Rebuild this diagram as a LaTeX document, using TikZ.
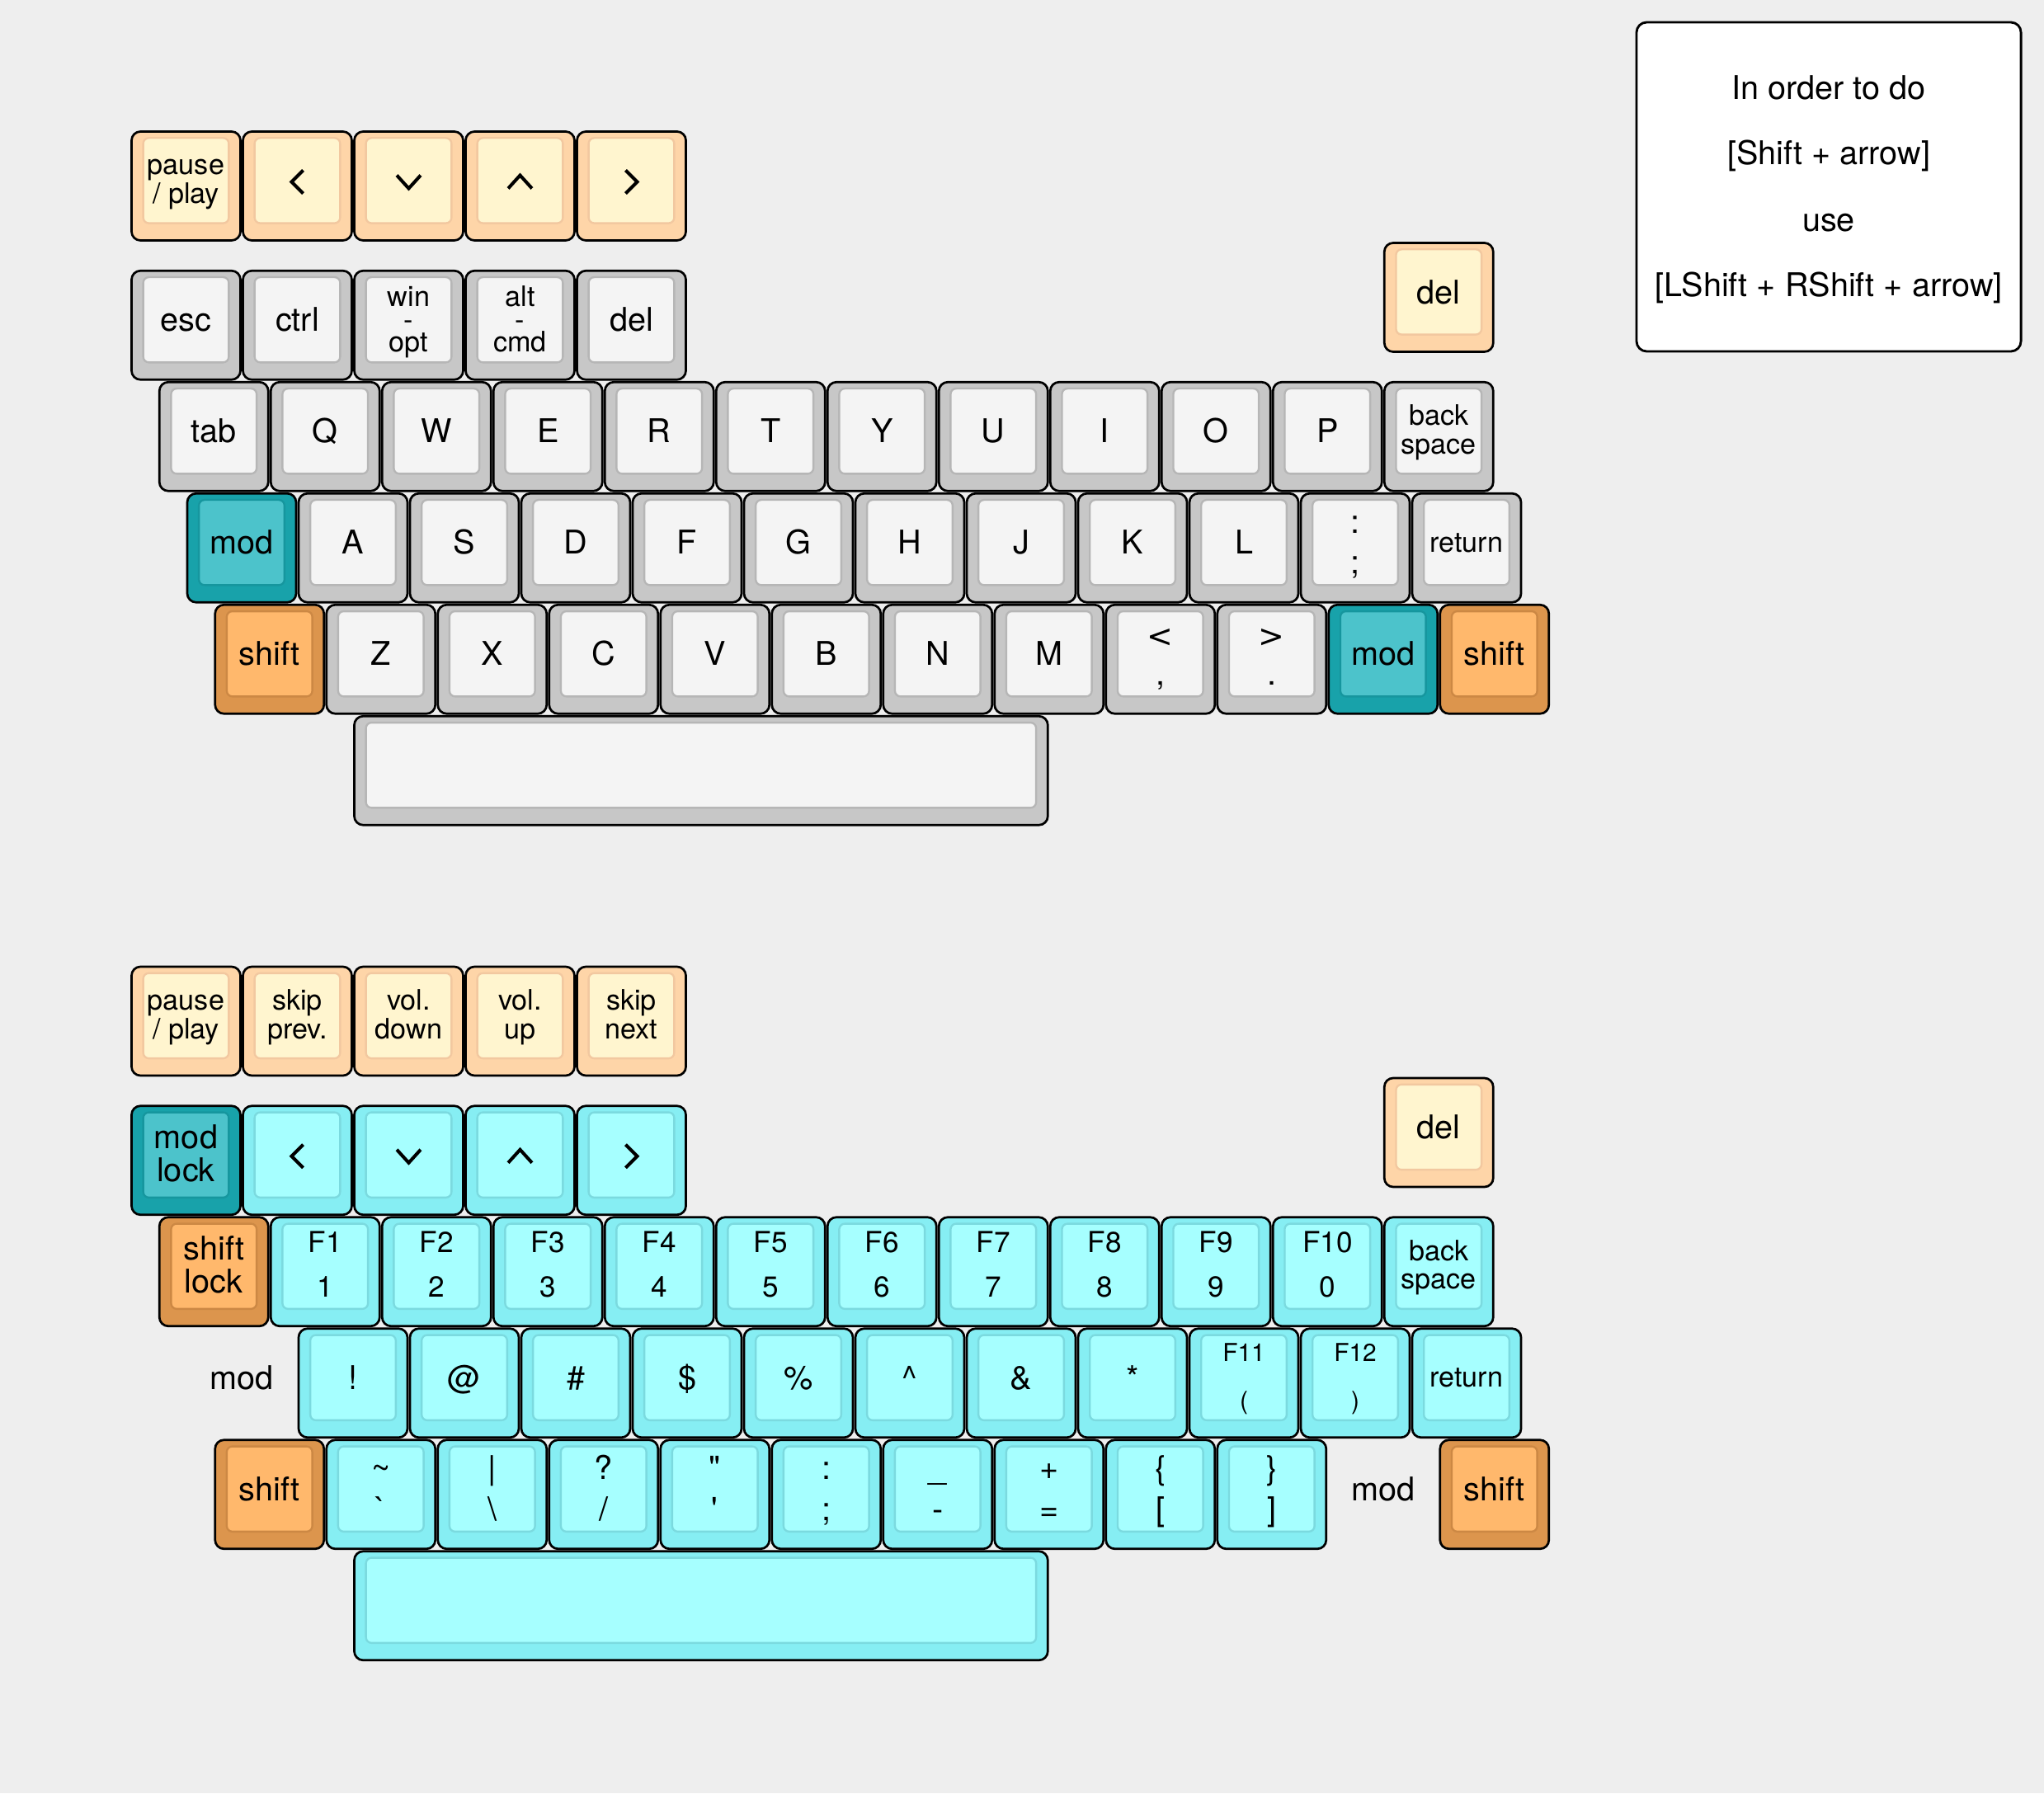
\documentclass[tikz,border=0pt]{standalone}
\usepackage{fontspec}
\newfontfamily\kf{TeX Gyre Heros}
\newfontfamily\dv{DejaVu Sans}
\usetikzlibrary{calc}
\definecolor{bgc}{HTML}{EEEEEE}
\definecolor{gyO}{HTML}{C7C7C7}\definecolor{gyI}{HTML}{F4F4F4}\definecolor{gyB}{HTML}{B6B6B6}
\definecolor{pcO}{HTML}{FED5A8}\definecolor{pcI}{HTML}{FFF5CF}\definecolor{pcB}{HTML}{F2C8A0}
\definecolor{tlO}{HTML}{18A2AA}\definecolor{tlI}{HTML}{4CC3CB}\definecolor{tlB}{HTML}{16969E}
\definecolor{orO}{HTML}{DC954D}\definecolor{orI}{HTML}{FFB86C}\definecolor{orB}{HTML}{CC8844}
\definecolor{cyO}{HTML}{86EEF3}\definecolor{cyI}{HTML}{A6FFFF}\definecolor{cyB}{HTML}{7BDADF}
\tikzset{
  kout/.style={rectangle, draw=black, line width=0.57pt, rounded corners=0.08cm, inner sep=0pt, outer sep=0pt},
  kin/.style={rectangle, line width=0.5pt, rounded corners=0.05cm, inner sep=0pt, outer sep=0pt},
  gy out/.style={fill=gyO}, gy in/.style={fill=gyI, draw=gyB},
  pc out/.style={fill=pcO}, pc in/.style={fill=pcI, draw=pcB},
  tl out/.style={fill=tlO}, tl in/.style={fill=tlI, draw=tlB},
  or out/.style={fill=orO}, or in/.style={fill=orI, draw=orB},
  cy out/.style={fill=cyO}, cy in/.style={fill=cyI, draw=cyB},
  lm/.style={font=\kf\fontsize{8.35}{10}\selectfont, inner sep=0pt, outer sep=0pt, anchor=base, text=black},
  ls/.style={font=\kf\fontsize{7.2}{9}\selectfont, inner sep=0pt, outer sep=0pt, anchor=base, text=black},
  lf/.style={font=\kf\fontsize{7.4}{9}\selectfont, inner sep=0pt, outer sep=0pt, anchor=base, text=black},
  lt/.style={font=\kf\fontsize{6.3}{8}\selectfont, inner sep=0pt, outer sep=0pt, anchor=base, text=black},
  chev/.style={draw=black, line width=0.85pt},
  notebox/.style={rectangle, draw=black, fill=white, line width=0.6pt, rounded corners=0.09cm, inner sep=0pt, outer sep=0pt},
}
% key body: name, x, y, width, palette
\newcommand\keycap[5]{%
  \node[kout, #5 out, anchor=north west, minimum width={(#4-0.022)*1cm}, minimum height=0.978cm] (#1) at ({#2+0.011},{#3+0.011}) {};
  \node[kin, #5 in, anchor=north west, minimum width={(#4-0.232)*1cm}, minimum height=0.765cm] (#1-top) at ({#2+0.116},{#3+0.069}) {};
}
% label: key, suffix, style, offset, text
\newcommand\klab[5]{\node[#3] (#1-#2) at ([yshift={-#4cm}]#1.north) {#5};}
\newcommand\kOne[2]{\klab{#1}{l}{lm}{0.546}{#2}}
\newcommand\kOneS[2]{\klab{#1}{l}{ls}{0.525}{#2}}
\newcommand\kTwoS[3]{\klab{#1}{a}{ls}{0.389}{#2}\klab{#1}{b}{ls}{0.646}{#3}}
\newcommand\kTwoM[3]{\klab{#1}{a}{lm}{0.381}{#2}\klab{#1}{b}{lm}{0.678}{#3}}
\newcommand\kTwoF[3]{\klab{#1}{a}{lf}{0.313}{#2}\klab{#1}{b}{lf}{0.720}{#3}}
\newcommand\kTwoT[3]{\klab{#1}{a}{lt}{0.291}{#2}\klab{#1}{b}{lt}{0.722}{#3}}
\newcommand\kTwoP[3]{\klab{#1}{a}{lm}{0.356}{#2}\klab{#1}{b}{lm}{0.722}{#3}}
\newcommand\kThree[4]{\klab{#1}{a}{ls}{0.322}{#2}\klab{#1}{b}{ls}{0.525}{#3}\klab{#1}{c}{ls}{0.730}{#4}}
% chevrons
\newcommand\chevL[1]{\coordinate (#1-c) at ([yshift=-0.452cm]#1.north);
  \draw[chev] ($(#1-c)+(0.052,-0.104)$) -- ($(#1-c)+(-0.052,0)$) -- ($(#1-c)+(0.052,0.104)$);}
\newcommand\chevR[1]{\coordinate (#1-c) at ([yshift=-0.452cm]#1.north);
  \draw[chev] ($(#1-c)+(-0.052,-0.104)$) -- ($(#1-c)+(0.052,0)$) -- ($(#1-c)+(-0.052,0.104)$);}
\newcommand\chevD[1]{\coordinate (#1-c) at ([yshift=-0.452cm]#1.north);
  \draw[chev] ($(#1-c)+(-0.107,-0.059)$) -- ($(#1-c)+(0,0.059)$) -- ($(#1-c)+(0.107,-0.059)$);}
\newcommand\chevU[1]{\coordinate (#1-c) at ([yshift=-0.452cm]#1.north);
  \draw[chev] ($(#1-c)+(-0.107,0.059)$) -- ($(#1-c)+(0,-0.059)$) -- ($(#1-c)+(0.107,0.059)$);}
\begin{document}
\begin{tikzpicture}[x=1cm,y=-1cm]
\useasboundingbox (-1.17037,-1.17037) rectangle (17.18519,14.93333);
\fill[bgc] (-1.17037,-1.17037) rectangle (17.18519,14.93333);

% ---------- note ----------
\node[notebox, anchor=north west, minimum width=3.452cm, minimum height=2.955cm] (note) at (13.526,-0.970) {};
\node[lm] (note-1) at (15.252,-0.281) {In order to do};
\node[lm] (note-2) at (15.252,0.311) {[Shift + arrow]};
\node[lm] (note-3) at (15.252,0.904) {use};
\node[lm] (note-4) at (15.252,1.496) {[LShift + RShift + arrow]};

% ---------- top layer ----------
\keycap{tpause}{0}{0}{1}{pc}\kTwoS{tpause}{pause}{/ play}
\keycap{tleft}{1}{0}{1}{pc}\chevL{tleft}
\keycap{tdown}{2}{0}{1}{pc}\chevD{tdown}
\keycap{tup}{3}{0}{1}{pc}\chevU{tup}
\keycap{tright}{4}{0}{1}{pc}\chevR{tright}

\keycap{esc}{0}{1.25}{1}{gy}\kOne{esc}{esc}
\keycap{ctrl}{1}{1.25}{1}{gy}\kOne{ctrl}{ctrl}
\keycap{win}{2}{1.25}{1}{gy}\kThree{win}{win}{-}{opt}
\keycap{alt}{3}{1.25}{1}{gy}\kThree{alt}{alt}{-}{cmd}
\keycap{tdel}{4}{1.25}{1}{gy}\kOne{tdel}{del}
\keycap{tdelx}{11.25}{1}{1}{pc}\kOne{tdelx}{del}

\keycap{tab}{0.25}{2.25}{1}{gy}\kOne{tab}{tab}
\foreach \k [count=\i] in {Q,W,E,R,T,Y,U,I,O,P} {\keycap{k\k}{\i+0.25}{2.25}{1}{gy}\kOne{k\k}{\k}}
\keycap{tbs}{11.25}{2.25}{1}{gy}\kTwoS{tbs}{back}{space}

\keycap{tmod}{0.5}{3.25}{1}{tl}\kOne{tmod}{mod}
\foreach \k [count=\i] in {A,S,D,F,G,H,J,K,L} {\keycap{k\k}{\i+0.5}{3.25}{1}{gy}\kOne{k\k}{\k}}
\keycap{tcolon}{10.5}{3.25}{1}{gy}\kTwoP{tcolon}{:}{;}
\keycap{tret}{11.5}{3.25}{1}{gy}\kOneS{tret}{return}

\keycap{tshl}{0.75}{4.25}{1}{or}\kOne{tshl}{shift}
\foreach \k [count=\i] in {Z,X,C,V,B,N,M} {\keycap{k\k}{\i+0.75}{4.25}{1}{gy}\kOne{k\k}{\k}}
\keycap{tcomma}{8.75}{4.25}{1}{gy}\kTwoP{tcomma}{\dv\fontsize{8}{10}\selectfont\raisebox{-0.6pt}{<}}{,}
\keycap{tperiod}{9.75}{4.25}{1}{gy}\kTwoP{tperiod}{\dv\fontsize{8}{10}\selectfont\raisebox{-0.6pt}{>}}{.}
\keycap{tmodr}{10.75}{4.25}{1}{tl}\kOne{tmodr}{mod}
\keycap{tshr}{11.75}{4.25}{1}{or}\kOne{tshr}{shift}

\keycap{tspace}{2}{5.25}{6.25}{gy}

% ---------- bottom layer ----------
\keycap{bpause}{0}{7.5}{1}{pc}\kTwoS{bpause}{pause}{/ play}
\keycap{bprev}{1}{7.5}{1}{pc}\kTwoS{bprev}{skip}{prev.}
\keycap{bvdn}{2}{7.5}{1}{pc}\kTwoS{bvdn}{vol.}{down}
\keycap{bvup}{3}{7.5}{1}{pc}\kTwoS{bvup}{vol.}{up}
\keycap{bnext}{4}{7.5}{1}{pc}\kTwoS{bnext}{skip}{next}

\keycap{bmodlock}{0}{8.75}{1}{tl}\kTwoM{bmodlock}{mod}{lock}
\keycap{bleft}{1}{8.75}{1}{cy}\chevL{bleft}
\keycap{bdown}{2}{8.75}{1}{cy}\chevD{bdown}
\keycap{bup}{3}{8.75}{1}{cy}\chevU{bup}
\keycap{bright}{4}{8.75}{1}{cy}\chevR{bright}
\keycap{bdel}{11.25}{8.5}{1}{pc}\kOne{bdel}{del}

\keycap{bshlock}{0.25}{9.75}{1}{or}\kTwoM{bshlock}{shift}{lock}
\foreach \f/\n [count=\i] in {F1/1,F2/2,F3/3,F4/4,F5/5,F6/6,F7/7,F8/8,F9/9,F10/0} {\keycap{bf\i}{\i+0.25}{9.75}{1}{cy}\kTwoF{bf\i}{\f}{\n}}
\keycap{bbs}{11.25}{9.75}{1}{cy}\kTwoS{bbs}{back}{space}

\node[lm] (bmodtxt) at (1.0,11.307) {mod};
\foreach \s [count=\i] in {!,@,\#,\$,\%,\textasciicircum,\&,*} {\keycap{bs\i}{\i+0.5}{10.75}{1}{cy}\kOne{bs\i}{\s}}
\keycap{bf11}{9.5}{10.75}{1}{cy}\kTwoT{bf11}{F11}{(}
\keycap{bf12}{10.5}{10.75}{1}{cy}\kTwoT{bf12}{F12}{)}
\keycap{bret}{11.5}{10.75}{1}{cy}\kOneS{bret}{return}

\keycap{bshl}{0.75}{11.75}{1}{or}\kOne{bshl}{shift}
\keycap{bp1}{1.75}{11.75}{1}{cy}\kTwoP{bp1}{\textasciitilde}{\textasciigrave}
\keycap{bp2}{2.75}{11.75}{1}{cy}\kTwoP{bp2}{|}{\textbackslash}
\keycap{bp3}{3.75}{11.75}{1}{cy}\kTwoP{bp3}{?}{/}
\keycap{bp4}{4.75}{11.75}{1}{cy}\kTwoP{bp4}{"}{'}
\keycap{bp5}{5.75}{11.75}{1}{cy}\kTwoP{bp5}{:}{;}
\keycap{bp6}{6.75}{11.75}{1}{cy}\kTwoP{bp6}{\_}{-}
\keycap{bp7}{7.75}{11.75}{1}{cy}\kTwoP{bp7}{+}{=}
\keycap{bp8}{8.75}{11.75}{1}{cy}\kTwoP{bp8}{\{}{[}
\keycap{bp9}{9.75}{11.75}{1}{cy}\kTwoP{bp9}{\}}{]}
\node[lm] (bmodtxt2) at (11.25,12.307) {mod};
\keycap{bshr}{11.75}{11.75}{1}{or}\kOne{bshr}{shift}

\keycap{bspace}{2}{12.75}{6.25}{cy}
\end{tikzpicture}
\end{document}
